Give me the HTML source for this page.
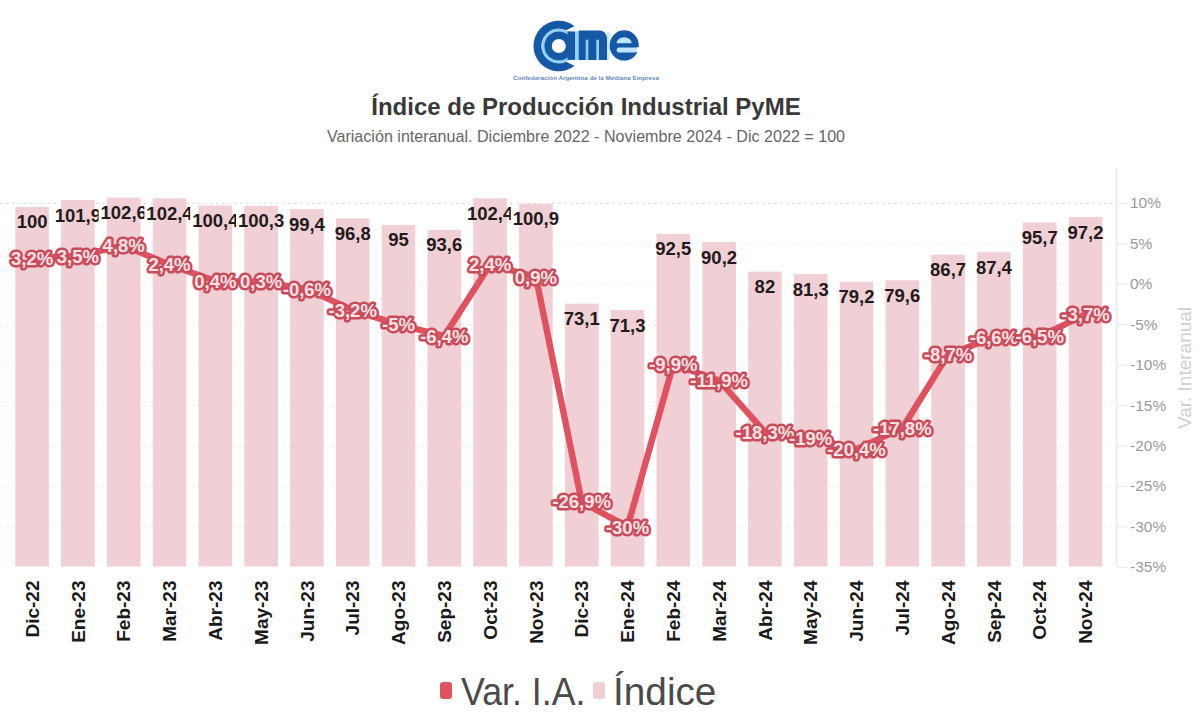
<!DOCTYPE html>
<html><head><meta charset="utf-8">
<style>
html,body{margin:0;padding:0;background:#fff;}
body{width:1200px;height:722px;position:relative;overflow:hidden;font-family:"Liberation Sans",sans-serif;}
.title{position:absolute;left:0;width:1172px;top:93.3px;text-align:center;font-weight:bold;font-size:24px;line-height:28px;color:#393939;white-space:nowrap;}
.sub{position:absolute;left:0;width:1172px;top:126.6px;text-align:center;font-size:16.1px;line-height:18px;color:#666;white-space:nowrap;}
svg.chart{position:absolute;left:0;top:0;}
.bl{position:absolute;width:60px;text-align:center;white-space:nowrap;font-weight:bold;font-size:18.5px;line-height:20px;color:#231a1c;}
.ll{font-family:"Liberation Sans",sans-serif;font-weight:bold;font-size:18.5px;text-anchor:middle;fill:#fce2e5;stroke:#c84c5a;stroke-width:5px;paint-order:stroke;stroke-linejoin:round;}
.yt{font-family:"Liberation Sans",sans-serif;font-size:15.5px;fill:#9a9a9a;}
.xt{font-family:"Liberation Sans",sans-serif;font-weight:bold;font-size:19px;fill:#1a1a1a;text-anchor:end;}
.leg{position:absolute;top:670px;font-size:38px;line-height:44px;color:#4a4a4a;transform-origin:0 0;white-space:nowrap;}
.mk{position:absolute;width:12.5px;height:16.7px;border-radius:3px;}
</style></head><body>
<svg class="chart" width="1200" height="722" viewBox="0 0 1200 722">
<line x1="0" y1="203.3" x2="1116" y2="203.3" stroke="#d9d9d9" stroke-width="1" stroke-dasharray="2.5 3.5"/><line x1="0" y1="243.8" x2="1116" y2="243.8" stroke="#efefef" stroke-width="1" stroke-dasharray="2.5 3.5"/><line x1="0" y1="284.2" x2="1116" y2="284.2" stroke="#efefef" stroke-width="1" stroke-dasharray="2.5 3.5"/><line x1="0" y1="324.6" x2="1116" y2="324.6" stroke="#efefef" stroke-width="1" stroke-dasharray="2.5 3.5"/><line x1="0" y1="365.1" x2="1116" y2="365.1" stroke="#efefef" stroke-width="1" stroke-dasharray="2.5 3.5"/><line x1="0" y1="405.5" x2="1116" y2="405.5" stroke="#efefef" stroke-width="1" stroke-dasharray="2.5 3.5"/><line x1="0" y1="446.0" x2="1116" y2="446.0" stroke="#efefef" stroke-width="1" stroke-dasharray="2.5 3.5"/><line x1="0" y1="486.4" x2="1116" y2="486.4" stroke="#efefef" stroke-width="1" stroke-dasharray="2.5 3.5"/><line x1="0" y1="526.9" x2="1116" y2="526.9" stroke="#efefef" stroke-width="1" stroke-dasharray="2.5 3.5"/>
<rect x="15.3" y="206.9" width="33.6" height="359.6" fill="#f0d0d5"/><rect x="61.1" y="200.1" width="33.6" height="366.4" fill="#f0d0d5"/><rect x="106.9" y="197.6" width="33.6" height="368.9" fill="#f0d0d5"/><rect x="152.7" y="198.3" width="33.6" height="368.2" fill="#f0d0d5"/><rect x="198.5" y="205.5" width="33.6" height="361.0" fill="#f0d0d5"/><rect x="244.3" y="205.8" width="33.6" height="360.7" fill="#f0d0d5"/><rect x="290.1" y="209.1" width="33.6" height="357.4" fill="#f0d0d5"/><rect x="335.9" y="218.4" width="33.6" height="348.1" fill="#f0d0d5"/><rect x="381.7" y="224.9" width="33.6" height="341.6" fill="#f0d0d5"/><rect x="427.5" y="229.9" width="33.6" height="336.6" fill="#f0d0d5"/><rect x="473.3" y="198.3" width="33.6" height="368.2" fill="#f0d0d5"/><rect x="519.1" y="203.7" width="33.6" height="362.8" fill="#f0d0d5"/><rect x="564.9" y="303.6" width="33.6" height="262.9" fill="#f0d0d5"/><rect x="610.7" y="310.1" width="33.6" height="256.4" fill="#f0d0d5"/><rect x="656.5" y="233.9" width="33.6" height="332.6" fill="#f0d0d5"/><rect x="702.3" y="242.1" width="33.6" height="324.4" fill="#f0d0d5"/><rect x="748.1" y="271.6" width="33.6" height="294.9" fill="#f0d0d5"/><rect x="793.9" y="274.1" width="33.6" height="292.4" fill="#f0d0d5"/><rect x="839.7" y="281.7" width="33.6" height="284.8" fill="#f0d0d5"/><rect x="885.5" y="280.3" width="33.6" height="286.2" fill="#f0d0d5"/><rect x="931.3" y="254.7" width="33.6" height="311.8" fill="#f0d0d5"/><rect x="977.1" y="252.2" width="33.6" height="314.3" fill="#f0d0d5"/><rect x="1022.9" y="222.4" width="33.6" height="344.1" fill="#f0d0d5"/><rect x="1068.7" y="217.0" width="33.6" height="349.5" fill="#f0d0d5"/>
<line x1="1116.5" y1="168" x2="1116.5" y2="567" stroke="#eeeeee" stroke-width="2.2"/>
<line x1="1117" y1="203.3" x2="1127.5" y2="203.3" stroke="#e6e6e6" stroke-width="1"/><text x="1130" y="208.3" class="yt">10%</text><line x1="1117" y1="243.8" x2="1127.5" y2="243.8" stroke="#e6e6e6" stroke-width="1"/><text x="1130" y="248.8" class="yt">5%</text><line x1="1117" y1="284.2" x2="1127.5" y2="284.2" stroke="#e6e6e6" stroke-width="1"/><text x="1130" y="289.2" class="yt">0%</text><line x1="1117" y1="324.6" x2="1127.5" y2="324.6" stroke="#e6e6e6" stroke-width="1"/><text x="1130" y="329.6" class="yt">-5%</text><line x1="1117" y1="365.1" x2="1127.5" y2="365.1" stroke="#e6e6e6" stroke-width="1"/><text x="1130" y="370.1" class="yt">-10%</text><line x1="1117" y1="405.5" x2="1127.5" y2="405.5" stroke="#e6e6e6" stroke-width="1"/><text x="1130" y="410.5" class="yt">-15%</text><line x1="1117" y1="446.0" x2="1127.5" y2="446.0" stroke="#e6e6e6" stroke-width="1"/><text x="1130" y="451.0" class="yt">-20%</text><line x1="1117" y1="486.4" x2="1127.5" y2="486.4" stroke="#e6e6e6" stroke-width="1"/><text x="1130" y="491.4" class="yt">-25%</text><line x1="1117" y1="526.9" x2="1127.5" y2="526.9" stroke="#e6e6e6" stroke-width="1"/><text x="1130" y="531.9" class="yt">-30%</text><line x1="1117" y1="567.3" x2="1127.5" y2="567.3" stroke="#e6e6e6" stroke-width="1"/><text x="1130" y="572.3" class="yt">-35%</text>
<text class="xt" transform="translate(38.8 580.5) rotate(-90)">Dic-22</text><text class="xt" transform="translate(84.6 580.5) rotate(-90)">Ene-23</text><text class="xt" transform="translate(130.4 580.5) rotate(-90)">Feb-23</text><text class="xt" transform="translate(176.2 580.5) rotate(-90)">Mar-23</text><text class="xt" transform="translate(222.0 580.5) rotate(-90)">Abr-23</text><text class="xt" transform="translate(267.8 580.5) rotate(-90)">May-23</text><text class="xt" transform="translate(313.6 580.5) rotate(-90)">Jun-23</text><text class="xt" transform="translate(359.4 580.5) rotate(-90)">Jul-23</text><text class="xt" transform="translate(405.2 580.5) rotate(-90)">Ago-23</text><text class="xt" transform="translate(451.0 580.5) rotate(-90)">Sep-23</text><text class="xt" transform="translate(496.8 580.5) rotate(-90)">Oct-23</text><text class="xt" transform="translate(542.6 580.5) rotate(-90)">Nov-23</text><text class="xt" transform="translate(588.4 580.5) rotate(-90)">Dic-23</text><text class="xt" transform="translate(634.2 580.5) rotate(-90)">Ene-24</text><text class="xt" transform="translate(680.0 580.5) rotate(-90)">Feb-24</text><text class="xt" transform="translate(725.8 580.5) rotate(-90)">Mar-24</text><text class="xt" transform="translate(771.6 580.5) rotate(-90)">Abr-24</text><text class="xt" transform="translate(817.4 580.5) rotate(-90)">May-24</text><text class="xt" transform="translate(863.2 580.5) rotate(-90)">Jun-24</text><text class="xt" transform="translate(909.0 580.5) rotate(-90)">Jul-24</text><text class="xt" transform="translate(954.8 580.5) rotate(-90)">Ago-24</text><text class="xt" transform="translate(1000.6 580.5) rotate(-90)">Sep-24</text><text class="xt" transform="translate(1046.4 580.5) rotate(-90)">Oct-24</text><text class="xt" transform="translate(1092.2 580.5) rotate(-90)">Nov-24</text>
<polyline points="32.1,258.3 77.9,255.9 123.7,245.4 169.5,264.8 215.3,281.0 261.1,281.8 306.9,289.1 352.7,310.1 398.5,324.6 444.3,336.0 490.1,264.8 535.9,276.9 581.7,501.8 627.5,526.9 673.3,364.3 719.1,380.5 764.9,432.2 810.7,437.9 856.5,449.2 902.3,428.2 948.1,354.6 993.9,337.6 1039.7,336.8 1085.5,314.1" fill="none" stroke="#e0525f" stroke-width="6.4" stroke-linejoin="round" stroke-linecap="round"/>
<text x="32.1" y="264.9" class="ll">3,2%</text><text x="77.9" y="262.5" class="ll">3,5%</text><text x="123.7" y="252.0" class="ll">4,8%</text><text x="169.5" y="271.4" class="ll">2,4%</text><text x="215.3" y="287.6" class="ll">0,4%</text><text x="261.1" y="288.4" class="ll">0,3%</text><text x="306.9" y="295.7" class="ll">-0,6%</text><text x="352.7" y="316.7" class="ll">-3,2%</text><text x="398.5" y="331.2" class="ll">-5%</text><text x="444.3" y="342.6" class="ll">-6,4%</text><text x="490.1" y="271.4" class="ll">2,4%</text><text x="535.9" y="283.5" class="ll">0,9%</text><text x="581.7" y="508.4" class="ll">-26,9%</text><text x="627.5" y="533.5" class="ll">-30%</text><text x="673.3" y="370.9" class="ll">-9,9%</text><text x="719.1" y="387.1" class="ll">-11,9%</text><text x="764.9" y="438.8" class="ll">-18,3%</text><text x="810.7" y="444.5" class="ll">-19%</text><text x="856.5" y="455.8" class="ll">-20,4%</text><text x="902.3" y="434.8" class="ll">-17,8%</text><text x="948.1" y="361.2" class="ll">-8,7%</text><text x="993.9" y="344.2" class="ll">-6,6%</text><text x="1039.7" y="343.4" class="ll">-6,5%</text><text x="1085.5" y="320.7" class="ll">-3,7%</text>
<text x="0" y="0" transform="translate(1190.5 368) rotate(-90)" text-anchor="middle" font-family="Liberation Sans" font-size="19" fill="#cfcfcf">Var. Interanual</text>
</svg>
<div class="bl" style="left:2.1px;top:212.4px">100</div><div class="bl" style="left:47.9px;top:205.6px;clip-path:inset(0 9.3px 0 0)">101,9</div><div class="bl" style="left:93.7px;top:203.1px;clip-path:inset(0 9.3px 0 0)">102,6</div><div class="bl" style="left:139.5px;top:203.8px;clip-path:inset(0 9.3px 0 0)">102,4</div><div class="bl" style="left:185.3px;top:211.0px;clip-path:inset(0 9.3px 0 0)">100,4</div><div class="bl" style="left:231.1px;top:211.3px">100,3</div><div class="bl" style="left:276.9px;top:214.6px">99,4</div><div class="bl" style="left:322.7px;top:223.9px">96,8</div><div class="bl" style="left:368.5px;top:230.4px">95</div><div class="bl" style="left:414.3px;top:235.4px">93,6</div><div class="bl" style="left:460.1px;top:203.8px;clip-path:inset(0 9.3px 0 0)">102,4</div><div class="bl" style="left:505.9px;top:209.2px">100,9</div><div class="bl" style="left:551.7px;top:309.1px">73,1</div><div class="bl" style="left:597.5px;top:315.6px">71,3</div><div class="bl" style="left:643.3px;top:239.4px">92,5</div><div class="bl" style="left:689.1px;top:247.6px">90,2</div><div class="bl" style="left:734.9px;top:277.1px">82</div><div class="bl" style="left:780.7px;top:279.6px">81,3</div><div class="bl" style="left:826.5px;top:287.2px">79,2</div><div class="bl" style="left:872.3px;top:285.8px">79,6</div><div class="bl" style="left:918.1px;top:260.2px">86,7</div><div class="bl" style="left:963.9px;top:257.7px">87,4</div><div class="bl" style="left:1009.7px;top:227.9px">95,7</div><div class="bl" style="left:1055.5px;top:222.5px">97,2</div>
<div class="title">Índice de Producción Industrial PyME</div>
<div class="sub">Variación interanual. Diciembre 2022 - Noviembre 2024 - Dic 2022 = 100</div>
<div class="mk" style="left:439.5px;top:682px;background:#e0525f"></div>
<div class="leg" style="left:461.3px;transform:scaleX(0.94)">Var. I.A.</div>
<div class="mk" style="left:592.5px;top:682px;background:#f0cfd4"></div>
<div class="leg" style="left:613.4px;transform:scaleX(1.02)">Índice</div>
<svg class="logo" width="1200" height="100" viewBox="0 0 1200 100" style="position:absolute;left:0;top:0">
<defs><clipPath id="cl"><rect x="520" y="10" width="48.5" height="70"/></clipPath></defs>
<path d="M574.5 26.2 A25.3 25.3 0 1 0 574.5 65.8 L566 61.7 A17.3 17.3 0 1 1 566 30.3 Z" fill="#1558a6"/>
<circle cx="558.7" cy="46" r="15.9" fill="none" stroke="#8fd2f6" stroke-width="2.8" clip-path="url(#cl)"/>
<circle cx="558.8" cy="46" r="14.5" fill="#1558a6"/>
<circle cx="558.8" cy="46" r="7" fill="#fff"/>
<rect x="567.5" y="31.4" width="7.5" height="28.5" fill="#1558a6"/>
<rect x="575" y="31.4" width="3.7" height="28.5" fill="#8fd2f6"/>
<path d="M578.7 30.6 H599.5 A7.5 7.5 0 0 1 607 38.1 V60 H578.7 Z" fill="#1558a6"/>
<rect x="585.7" y="39.7" width="2.6" height="20.3" fill="#8fd2f6"/>
<rect x="596.3" y="39.7" width="2.7" height="20.3" fill="#8fd2f6"/>
<rect x="607" y="32" width="2.6" height="28" fill="#8fd2f6" opacity="0.5"/>
<ellipse cx="624.2" cy="45.4" rx="14.6" ry="15.2" fill="#1558a6"/>
<path d="M616.5 43.2 A7.6 5.9 0 0 1 631.7 43.2 Z" fill="#bfe6fb"/>
<path d="M619.2 47.5 H636.5 V52.6 H619.2 A2.55 2.55 0 0 1 619.2 47.5 Z" fill="#bfe6fb"/>
<rect x="636.3" y="47.3" width="4" height="4.5" fill="#fff"/>
<text x="586" y="80" text-anchor="middle" font-family="Liberation Sans" font-weight="bold" font-size="5.6" fill="#6288c0" textLength="146" lengthAdjust="spacingAndGlyphs">Confederación Argentina de la Mediana Empresa</text>
</svg>
</body></html>
